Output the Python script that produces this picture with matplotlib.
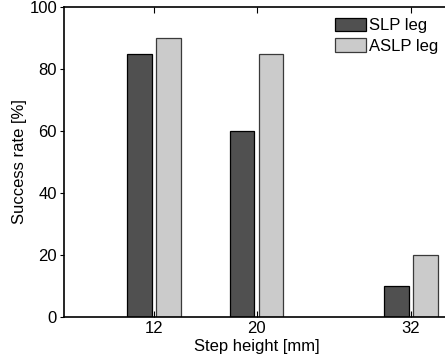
import matplotlib
matplotlib.use("Agg")
import matplotlib.pyplot as plt
import numpy as np

plt.rcParams['font.family'] = ['Liberation Sans', 'DejaVu Sans']

step_heights = [12, 20, 32]
slp_success = [85, 60, 10]
aslp_success = [90, 85, 20]
series_labels = ["SLP leg", "ASLP leg"]
yticks = [0, 20, 40, 60, 80, 100]

fig = plt.figure(figsize=(4.45, 3.62), dpi=100)
W, H = 445, 362
ax = fig.add_axes([64 / W, 1 - 317 / H, (449.5 - 64) / W, (317 - 7) / H])

x = np.array(step_heights, dtype=float)
bw = 1.88
off = 1.13
ax.bar(x - off, slp_success, width=bw, color='#505050', edgecolor='black',
       linewidth=0.9, label=series_labels[0], zorder=2)
ax.bar(x + off, aslp_success, width=bw, color='#cbcbcb', edgecolor='#3a3a3a',
       linewidth=0.9, label=series_labels[1], zorder=2)

ax.set_xlim(5, 35)
ax.set_ylim(0, 100)
ax.set_xticks(step_heights)
ax.set_xticklabels([str(v) for v in step_heights])
ax.set_yticks(yticks)
ax.tick_params(axis='x', direction='in', top=True, length=4, width=0.8, labelsize=12, pad=3)
ax.tick_params(axis='y', direction='out', length=3, width=0.8, labelsize=12, pad=2)

ax.spines['right'].set_visible(False)
for s in ['left', 'bottom', 'top']:
    ax.spines[s].set_linewidth(1.2)

ax.set_xlabel("Step height [mm]", fontsize=12, labelpad=2)
ax.set_ylabel("Success rate [%]", fontsize=12, labelpad=2)

leg = ax.legend(loc='upper left', bbox_to_anchor=((335 - 64) / (449.5 - 64), 1 - 11 / 310),
                frameon=False, fontsize=12, handlelength=1.86, handleheight=0.85,
                handletextpad=0.2, labelspacing=0.3, borderaxespad=0, borderpad=0)

fig.savefig("out.png", dpi=100)
